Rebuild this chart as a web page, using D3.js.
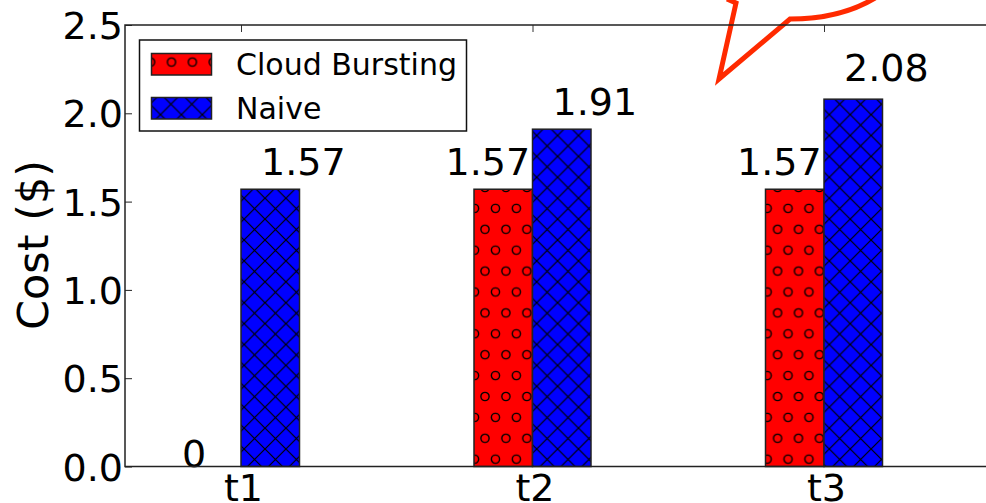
<!DOCTYPE html>
<html>
<head>
<meta charset="utf-8">
<script src="https://d3js.org/d3.v7.min.js"></script>
<style>
html, body { margin: 0; padding: 0; background: #fff; overflow: hidden; }
text { font-family: "DejaVu Sans"; fill: #000; }
</style>
</head>
<body>
<svg id="chart" width="986" height="503"></svg>
<script>
const categories = ['t1', 't2', 't3'];
const seriesNames = ['Cloud Bursting', 'Naive'];
const burstValues = [0, 1.57, 1.57];
const naiveValues = [1.57, 1.91, 2.08];
const yTicks = [0, 0.5, 1, 1.5, 2, 2.5];

const svg = d3.select('#chart');
const plot = { left: 125, top: 25, right: 1018, bottom: 466.5 };

const x = d3.scalePoint().domain(categories).range([241, 824]);
const y = d3.scaleLinear().domain([0, 2.5]).range([plot.bottom, plot.top]);
const barW = 58.5;

// hatch patterns
const defs = svg.append('defs');
const tile = 20.9;
const dots = defs.append('pattern').attr('id', 'dots').attr('patternUnits', 'userSpaceOnUse')
  .attr('width', tile).attr('height', tile * 2)
  .attr('x', 485).attr('y', 354.7 - tile / 2);
dots.append('rect').attr('width', tile).attr('height', tile * 2).attr('fill', '#f00');
[[0, 0.5], [tile, 0.5], [tile / 2, 1.5]].forEach(p => {
  dots.append('circle').attr('cx', p[0]).attr('cy', p[1] * tile).attr('r', 4.1)
    .attr('fill', 'none').attr('stroke', '#000').attr('stroke-width', 1.4);
});
const cross = defs.append('pattern').attr('id', 'cross').attr('patternUnits', 'userSpaceOnUse')
  .attr('width', tile).attr('height', tile)
  .attr('x', 265).attr('y', 449);
cross.append('rect').attr('width', tile).attr('height', tile).attr('fill', '#00f');
cross.append('path').attr('d', `M0,0L${tile},${tile}M0,${tile}L${tile},0`)
  .attr('stroke', '#000').attr('stroke-width', 1.2);

// callout that runs off the top of the page
svg.append('path')
  .attr('d', 'M727,-1L736,3L719,79L790,19C820,19 850,13 875,-2')
  .attr('fill', 'none').attr('stroke', '#ff2a00').attr('stroke-width', 5);

// bars
const drawBars = (values, fill, offset) => {
  svg.append('g').selectAll('rect').data(values).enter().append('rect')
    .attr('x', (d, i) => x(categories[i]) + offset)
    .attr('y', d => y(d))
    .attr('width', barW)
    .attr('height', d => y(0) - y(d))
    .attr('fill', fill)
    .attr('stroke', d => d > 0 ? '#222' : 'none')
    .attr('stroke-width', 1.5);
};
drawBars(burstValues, 'url(#dots)', -barW);
drawBars(naiveValues, 'url(#cross)', 0);

// value labels, hand placed like in the original figure
const labelGap = d => d === 0 ? 0 : d > 2 ? 18 : 14;
svg.append('g').selectAll('text').data(burstValues).enter().append('text')
  .attr('x', (d, i) => x(categories[i]) + (d === 0 ? -59 : -87))
  .attr('y', d => y(d) - labelGap(d))
  .attr('font-size', 38)
  .text(d => d);
svg.append('g').selectAll('text').data(naiveValues).enter().append('text')
  .attr('x', (d, i) => x(categories[i]) + 20)
  .attr('y', d => y(d) - labelGap(d))
  .attr('font-size', 38)
  .text(d => d);

// axes
const yAxis = svg.append('g').attr('transform', `translate(${plot.left},0)`)
  .call(d3.axisLeft(y).tickValues(yTicks).tickFormat(d3.format('.1f')).tickSize(-7).tickPadding(2));
yAxis.select('.domain').remove();
yAxis.selectAll('.tick line').attr('stroke', '#222').attr('stroke-width', 1);
yAxis.selectAll('text').attr('font-size', 38).attr('font-family', 'DejaVu Sans')
  .attr('y', 1.5);

const xAxis = svg.append('g').attr('transform', `translate(2,${plot.bottom})`)
  .call(d3.axisBottom(x).tickSize(-7).tickPadding(8));
xAxis.select('.domain').remove();
xAxis.selectAll('.tick line').attr('stroke', 'none');
xAxis.selectAll('text').attr('font-size', 38).attr('font-family', 'DejaVu Sans');

const topAxis = svg.append('g').attr('transform', `translate(0,${plot.top})`)
  .call(d3.axisTop(x).tickSize(-7).tickFormat(''));
topAxis.select('.domain').remove();
topAxis.selectAll('.tick line').attr('stroke', '#333').attr('stroke-width', 1);

// frame
svg.append('rect')
  .attr('x', plot.left).attr('y', plot.top)
  .attr('width', plot.right - plot.left).attr('height', plot.bottom - plot.top)
  .attr('fill', 'none').attr('stroke', '#222').attr('stroke-width', 1.5);

// y label
svg.append('text')
  .attr('transform', 'translate(47.5,245) rotate(-90)')
  .attr('text-anchor', 'middle')
  .attr('font-size', 43)
  .text('Cost ($)');

// legend
const legend = svg.append('g');
legend.append('rect').attr('x', 139.5).attr('y', 40).attr('width', 327).attr('height', 91)
  .attr('fill', '#fff').attr('stroke', '#111').attr('stroke-width', 1.5);
seriesNames.forEach((name, i) => {
  legend.append('rect').attr('x', 151.5).attr('y', 53.5 + i * 44).attr('width', 60).attr('height', 21.5)
    .attr('fill', i === 0 ? 'url(#dots)' : 'url(#cross)')
    .attr('stroke', '#222').attr('stroke-width', 1.5);
  legend.append('text').attr('x', 236).attr('y', 74.5 + i * 44)
    .attr('font-size', 30).text(name);
});
</script>
</body>
</html>
